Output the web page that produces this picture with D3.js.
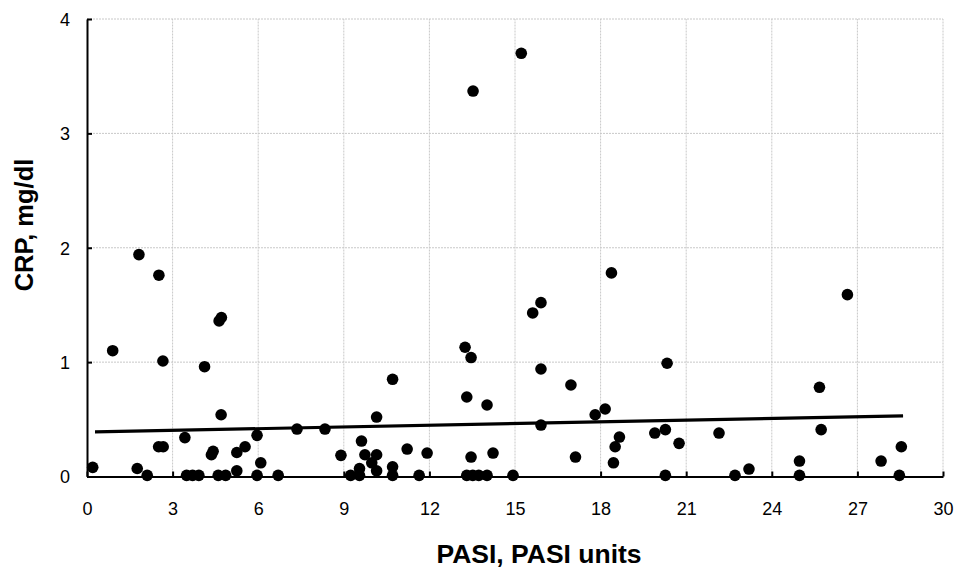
<!DOCTYPE html>
<html><head><meta charset="utf-8">
<script src="https://cdn.jsdelivr.net/npm/d3@7"></script>
<style>body{margin:0;background:#fff}svg{display:block}text{font-family:"Liberation Sans",Arial,sans-serif}</style>
</head><body>
<script>
const pasi = [0.2,0.9,1.82,1.76,2.11,2.52,2.66,2.51,2.67,3.43,3.49,3.70,3.92,4.12,4.36,4.42,4.63,4.71,4.70,4.60,4.86,5.25,5.25,5.54,5.96,6.09,5.96,6.70,7.36,8.34,8.90,9.24,9.55,9.55,9.62,9.74,9.98,10.15,10.15,10.15,10.71,10.71,10.71,11.22,11.64,11.92,13.25,13.46,13.31,13.46,13.31,13.52,13.73,14.02,14.02,14.23,14.93,15.62,15.91,15.91,15.91,16.96,17.12,17.81,18.16,18.38,18.45,18.51,18.66,13.53,15.22,19.90,20.27,20.33,20.27,20.75,22.15,22.71,23.20,24.97,24.97,25.67,25.73,26.65,27.83,28.54,28.47];
const crp  = [0.08,1.10,1.94,0.07,0.01,1.76,1.01,0.26,0.26,0.34,0.01,0.01,0.01,0.96,0.19,0.22,1.36,1.39,0.54,0.01,0.01,0.21,0.05,0.26,0.36,0.12,0.01,0.01,0.415,0.415,0.185,0.01,0.01,0.07,0.31,0.19,0.12,0.19,0.05,0.52,0.85,0.085,0.01,0.24,0.01,0.205,1.13,1.04,0.695,0.17,0.01,0.01,0.01,0.01,0.625,0.205,0.01,1.43,1.52,0.94,0.45,0.80,0.17,0.54,0.59,1.78,0.12,0.26,0.345,3.37,3.70,0.38,0.41,0.99,0.01,0.29,0.38,0.01,0.065,0.135,0.01,0.78,0.41,1.59,0.135,0.26,0.01];
const trendX = [0.28, 28.6];
const trendY = [0.39, 0.53];
const xTicks = [0,3,6,9,12,15,18,21,24,27,30];
const yTicks = [0,1,2,3,4];
const xTitle = "PASI, PASI units";
const yTitle = "CRP, mg/dl";

const W=957,H=570;
const svg=d3.select("body").append("svg").attr("width",W).attr("height",H);
const x=d3.scaleLinear().domain([0,30]).range([87,943]);
const y=d3.scaleLinear().domain([0,4]).range([476.5,19]);

// grid
const g=svg.append("g");
g.selectAll(".vg").data(xTicks.filter(d=>d>0)).join("line")
  .attr("x1",d=>x(d)).attr("x2",d=>x(d)).attr("y1",y(0)).attr("y2",y(4))
  .attr("stroke","#c8c8c8").attr("stroke-width",1).attr("stroke-dasharray","2,1");
g.selectAll(".hg").data(yTicks.filter(d=>d>0)).join("line")
  .attr("y1",d=>y(d)).attr("y2",d=>y(d)).attr("x1",x(0)).attr("x2",x(30))
  .attr("stroke","#c8c8c8").attr("stroke-width",1).attr("stroke-dasharray","2,1");

// axes
const xa=svg.append("g").attr("transform",`translate(0,${y(0)})`)
  .call(d3.axisBottom(x).tickValues(xTicks).tickSizeInner(-5).tickSizeOuter(0).tickPadding(0).tickFormat(d3.format("d")));
const ya=svg.append("g").attr("transform",`translate(${x(0)},0)`)
  .call(d3.axisLeft(y).tickValues(yTicks).tickSizeInner(-5).tickSizeOuter(0).tickPadding(0).tickFormat(d3.format("d")));
[xa,ya].forEach(a=>{a.select(".domain").attr("stroke","#000").attr("stroke-width",2);
  a.selectAll(".tick line").attr("stroke","#000").attr("stroke-width",2);
  a.selectAll("text").attr("font-size",18).attr("fill","#000").attr("font-family","Liberation Sans, Arial, sans-serif");});
xa.selectAll("text").attr("y",null).attr("dy",null).attr("transform","translate(0,38.5)");
ya.selectAll("text").attr("x",-17).attr("dy","0.35em");

// trend
svg.append("line").attr("x1",x(trendX[0])).attr("y1",y(trendY[0])).attr("x2",x(trendX[1])).attr("y2",y(trendY[1]))
  .attr("stroke","#000").attr("stroke-width",3.2);

// points
svg.append("g").selectAll("circle").data(pasi.map((v,i)=>[v,crp[i]])).join("circle")
  .attr("cx",d=>x(d[0])).attr("cy",d=>y(d[1])).attr("r",5.8).attr("fill","#000");

// titles
svg.append("text").attr("x",539).attr("y",563).attr("text-anchor","middle")
  .attr("font-size",26.5).attr("font-weight","bold").text(xTitle);
svg.append("text").attr("transform","translate(33,225) rotate(-90)").attr("text-anchor","middle")
  .attr("font-size",25.5).attr("font-weight","bold").text(yTitle);
</script>
</body></html>
